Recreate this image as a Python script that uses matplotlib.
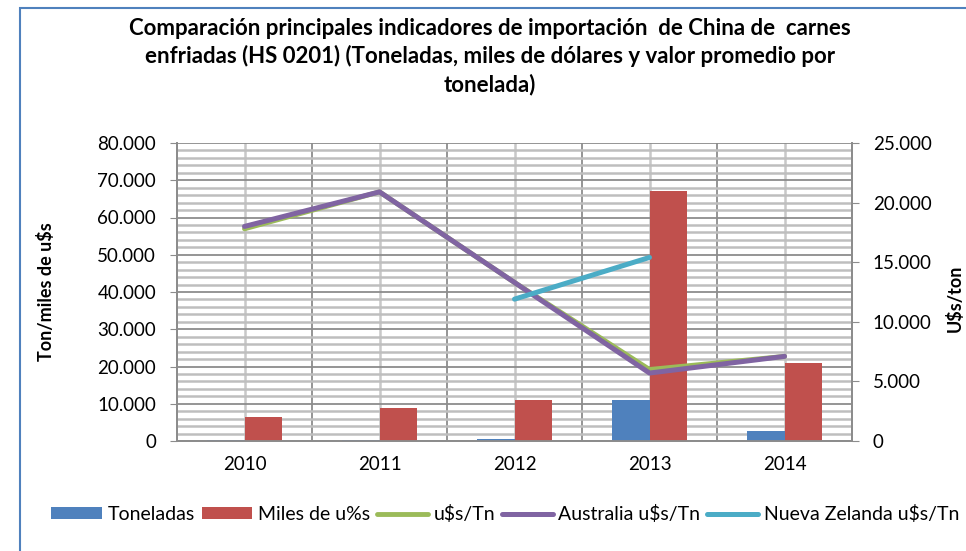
import matplotlib
matplotlib.use('Agg')
import matplotlib.pyplot as plt
from matplotlib.ticker import FuncFormatter, MultipleLocator
from matplotlib.patches import Rectangle
import numpy as np

plt.rcParams['font.family'] = ['Lato', 'DejaVu Sans']

anios = ['2010', '2011', '2012', '2013', '2014']
toneladas = [200, 200, 600, 11000, 2700]
miles_usd = [6500, 8900, 11100, 67000, 20900]
usd_tn = [17800, 20900, 13300, 6000, 7100]
australia_usd_tn = [18000, 20900, 13300, 5700, 7100]
nz_usd_tn = [None, None, 11900, 15400, None]

azul = '#4F81BD'
rojo = '#C0504D'
verde = '#9BBB59'
morado = '#8064A2'
celeste = '#4BACC6'
gris = '#8C8C8C'

def miles(v, pos):
    return '{:,.0f}'.format(v).replace(',', '.')

fig = plt.figure(figsize=(9.66, 5.51), dpi=100)
ax = fig.add_axes([177/966, 1 - 441/551, 675/966, 298/551])
ax2 = ax.twinx()

x = np.arange(len(anios))
w = 0.28
ax.bar(x - w/2, toneladas, w, color=azul, label='Toneladas', zorder=3)
ax.bar(x + w/2, miles_usd, w, color=rojo, label='Miles de u%s', zorder=3)

ax.set_xlim(-0.5, 4.5)
ax.set_ylim(0, 80000)
ax.yaxis.set_major_locator(MultipleLocator(10000))
ax.yaxis.set_minor_locator(MultipleLocator(2000))
ax.yaxis.set_major_formatter(FuncFormatter(miles))
ax.set_xticks(x)
ax.set_xticklabels(anios)
ax.set_xticks(np.arange(-0.5, 5, 1), minor=True)

ax.grid(which='minor', axis='y', color='#BEBEBE', lw=1.8, zorder=0)
ax.grid(which='major', axis='y', color=gris, lw=1.3, zorder=1)
ax.grid(which='major', axis='x', color='#C8C8C8', lw=1.8, zorder=0)
ax.grid(which='minor', axis='x', color=gris, lw=1.3, zorder=1)
ax.set_axisbelow(True)

ax.tick_params(axis='x', which='both', length=0, labelsize=13.5, pad=11)
ax.tick_params(axis='y', which='major', length=5, color=gris, labelsize=13.5, pad=10)
ax.tick_params(axis='y', which='minor', length=0)

def serie(vals):
    xs = [i for i, v in enumerate(vals) if v is not None]
    ys = [v for v in vals if v is not None]
    return xs, ys

ax2.plot(*serie(usd_tn), color=verde, lw=3.5, label='u$s/Tn', solid_capstyle='round')
ax2.plot(*serie(australia_usd_tn), color=morado, lw=3.6, label='Australia u$s/Tn', solid_capstyle='round')
ax2.plot(*serie(nz_usd_tn), color=celeste, lw=3.6, label='Nueva Zelanda u$s/Tn', solid_capstyle='round')
ax2.set_ylim(0, 25000)
ax2.yaxis.set_major_locator(MultipleLocator(5000))
ax2.yaxis.set_major_formatter(FuncFormatter(miles))
ax2.tick_params(axis='y', length=5, color=gris, labelsize=13.5, pad=10)

for a in (ax, ax2):
    for s in a.spines.values():
        s.set_color(gris)
        s.set_linewidth(1.3)
    a.spines['top'].set_visible(False)

ax.set_ylabel('Ton/miles de u$s', fontsize=13, fontweight='bold')
ax.yaxis.set_label_coords(-0.181, 0.5)
ax2.set_ylabel('U$s/ton', fontsize=13, fontweight='bold', rotation=90)
ax2.yaxis.set_label_coords(1.139, 0.48)

fig.text(0.507, 0.968,
         'Comparación principales indicadores de importación  de China de  carnes\n'
         'enfriadas (HS 0201) (Toneladas, miles de dólares y valor promedio por\n'
         'tonelada)',
         ha='center', va='top', fontsize=16, fontweight='bold', linespacing=1.35)

h1, l1 = ax.get_legend_handles_labels()
h2, l2 = ax2.get_legend_handles_labels()
fig.legend(h1 + h2, l1 + l2, loc='center', bbox_to_anchor=(0.523, 0.067), ncol=5,
           frameon=False, fontsize=14, handlelength=2.6, handleheight=0.55,
           handletextpad=0.3, columnspacing=0.35)

fig.patches.append(Rectangle((20/966, -0.1), 1.0, 1 - 8/551 + 0.1, transform=fig.transFigure,
                             fill=False, edgecolor='#4F81BD', lw=1.5))

fig.savefig('out.png', dpi=100)
